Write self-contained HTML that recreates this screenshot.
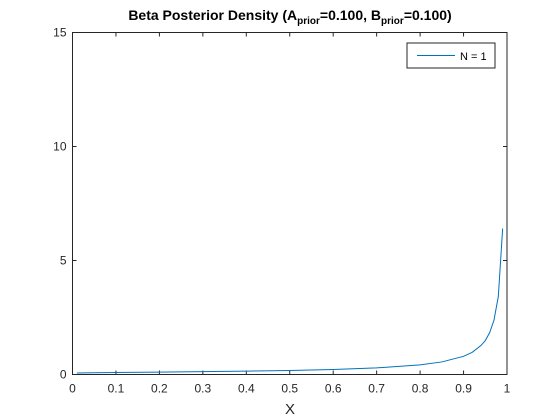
<!DOCTYPE html>
<html><head><meta charset="utf-8"><style>
body{margin:0;background:#fff;}
svg{display:block;font-family:"Liberation Sans",Arial,sans-serif;}
</style></head><body>
<svg id="chart" width="560" height="420" viewBox="0 0 560 420">
<rect width="560" height="420" fill="#fff"/>
<text x="290" y="20" text-anchor="middle" font-size="14" font-weight="bold" fill="#000">Beta Posterior Density (A<tspan font-size="10" dy="4">prior</tspan><tspan dy="-4">=0.100, B</tspan><tspan font-size="10" dy="4">prior</tspan><tspan dy="-4">=0.100)</tspan></text>
<g id="axes"></g>
<text x="290" y="414" text-anchor="middle" font-size="15" fill="#262626">X</text>
<g>
<rect x="407" y="43" width="88" height="25" fill="#fff" stroke="#262626" stroke-width="1"/>
<line x1="417" y1="55.5" x2="455" y2="55.5" stroke="#0072bd" stroke-width="1"/>
<text x="460" y="60" font-size="11" fill="#000">N = 1</text>
</g>
</svg>
<script>
const xVals=[0.01,0.05,0.1,0.2,0.3,0.4,0.5,0.6,0.7,0.8,0.85,0.9,0.92,0.94,0.95,0.96,0.97,0.98,0.99];
const yVals=[0.065,0.079,0.089,0.106,0.124,0.147,0.177,0.220,0.289,0.422,0.551,0.797,0.974,1.27,1.49,1.83,2.38,3.42,6.40];
const xTicks=[0,0.1,0.2,0.3,0.4,0.5,0.6,0.7,0.8,0.9,1];
const xTickLabels=["0","0.1","0.2","0.3","0.4","0.5","0.6","0.7","0.8","0.9","1"];
const yTicks=[0,5,10,15];
const yTickLabels=["0","5","10","15"];
const L=72.5,R=507,T=32.5,B=374.5;
const sx=v=>L+(v-0)/(1-0)*(R-L);
const sy=v=>B-(v-0)/(15-0)*(B-T);
const NS="http://www.w3.org/2000/svg";
const g=document.getElementById('axes');
function mk(t,a){const e=document.createElementNS(NS,t);for(const k in a)e.setAttribute(k,a[k]);g.appendChild(e);return e;}
const box=mk('rect',{x:L,y:T,width:R-L,height:B-T,fill:'none',stroke:'#262626','stroke-width':1});


xTicks.forEach((v,i)=>{const x=sx(v);
mk('line',{x1:x,y1:B,x2:x,y2:B-4,stroke:'#262626'});
mk('line',{x1:x,y1:T,x2:x,y2:T+4,stroke:'#262626'});
const t=mk('text',{x:x,y:B+18,'text-anchor':'middle','font-size':12,fill:'#262626'});t.textContent=xTickLabels[i];

});
yTicks.forEach((v,i)=>{const y=sy(v);
mk('line',{x1:L,y1:y,x2:L+4,y2:y,stroke:'#262626'});
mk('line',{x1:R,y1:y,x2:R-4,y2:y,stroke:'#262626'});
const t=mk('text',{x:L-6,y:y+4,'text-anchor':'end','font-size':12,fill:'#262626'});t.textContent=yTickLabels[i];

});
const pts=xVals.map((x,i)=>sx(x).toFixed(2)+','+sy(yVals[i]).toFixed(2)).join(' ');
const line=mk('polyline',{points:pts,fill:'none',stroke:'#0072bd','stroke-width':1});


</script>
</body></html>
